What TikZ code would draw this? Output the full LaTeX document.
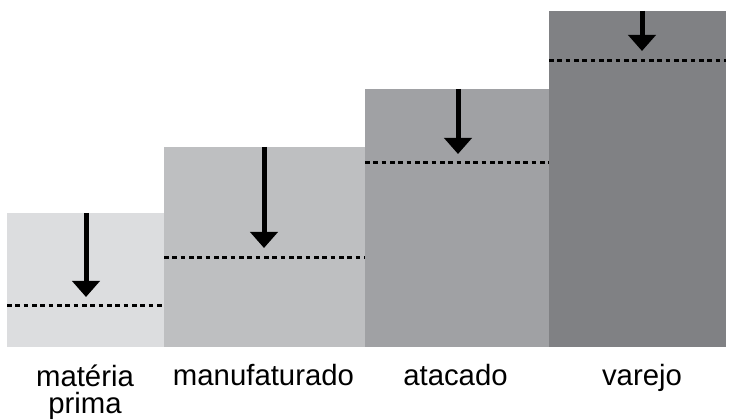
\documentclass[tikz,border=0pt]{standalone}
\usepackage{fontspec}
\setmainfont{Liberation Sans}
\usetikzlibrary{arrows.meta}
\definecolor{barA}{HTML}{DCDDDF}
\definecolor{barB}{HTML}{BEBFC1}
\definecolor{barC}{HTML}{A0A1A4}
\definecolor{barD}{HTML}{808184}
\begin{document}
\begin{tikzpicture}[x=0.75pt,y=-0.75pt,
  barbox/.style={draw=none},
  levelline/.style={line width=1.9pt, dash pattern=on 3.5pt off 2.75pt},
  downarrow/.style={line width=3.75pt, -{Triangle[width=20.25pt,length=12pt]}},
  lbl/.style={font=\fontsize{22pt}{20.25pt}\selectfont, anchor=base, align=center, inner sep=0pt}]
\useasboundingbox (0,0) rectangle (729,420);
% bars
\fill[barA] (7,213) rectangle (164,347);
\fill[barB] (164,147) rectangle (365,347);
\fill[barC] (365,89) rectangle (549,347);
\fill[barD] (549,11) rectangle (726,347);
% dashed levels
\coordinate (l1a) at (7,305.5); \coordinate (l1b) at (164,305.5);
\coordinate (l2a) at (164,257.5); \coordinate (l2b) at (365,257.5);
\coordinate (l3a) at (365,162.5); \coordinate (l3b) at (549,162.5);
\coordinate (l4a) at (549,60.5); \coordinate (l4b) at (726,60.5);
\draw[levelline] (l1a) -- (l1b);
\draw[levelline] (l2a) -- (l2b);
\draw[levelline] (l3a) -- (l3b);
\draw[levelline] (l4a) -- (l4b);
% arrows
\coordinate (a1s) at (86,213); \coordinate (a1e) at (86,297);
\coordinate (a2s) at (264,147); \coordinate (a2e) at (264,248);
\coordinate (a3s) at (458,89); \coordinate (a3e) at (458,154);
\coordinate (a4s) at (642,11); \coordinate (a4e) at (642,51);
\draw[downarrow] (a1s) -- (a1e);
\draw[downarrow] (a2s) -- (a2e);
\draw[downarrow] (a3s) -- (a3e);
\draw[downarrow] (a4s) -- (a4e);
% labels
\node[lbl] (t1) at (85,413.5) {matéria\\prima};
\node[lbl] (t2) at (263.5,386) {manufaturado};
\node[lbl] (t3) at (455.5,386) {atacado};
\node[lbl] (t4) at (642,386) {varejo};
\end{tikzpicture}
\end{document}
